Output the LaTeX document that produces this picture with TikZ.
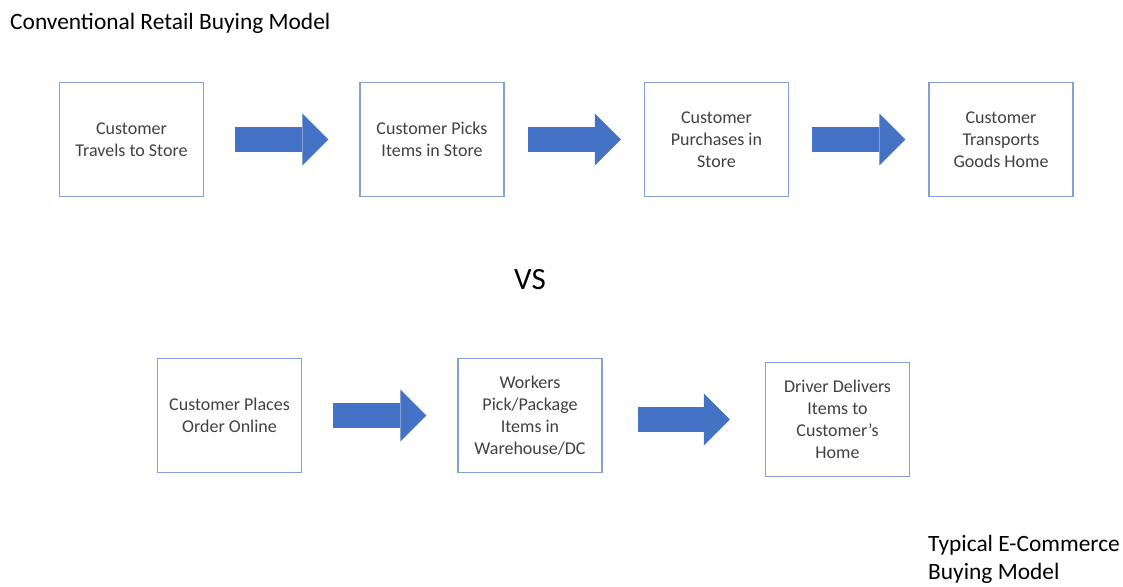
\documentclass[tikz,border=0pt]{standalone}
\usepackage{fontspec}
\setmainfont{Carlito}
\usepackage{xcolor}
\usepackage{tikz}
\usetikzlibrary{arrows.meta, positioning}

\definecolor{boxline}{HTML}{859FD4}
\definecolor{flowblue}{HTML}{4472C4}
\definecolor{boxtext}{HTML}{404040}

\begin{document}
\begin{tikzpicture}[
  x=1pt, y=-1pt,
  box/.style={rectangle, draw=boxline, line width=1.5pt, minimum width=144pt, minimum height=114pt, inner sep=0pt, align=center, text=boxtext, font=\fontsize{18}{22}\selectfont},
  flow/.style={line width=25pt, flowblue, -{Triangle[length=26pt, width=52pt, line width=0pt]}, shorten <=#1, shorten >=#1},
  heading/.style={inner sep=0pt, font=\fontsize{23.4}{28}\selectfont}
]
\useasboundingbox (0,0) rectangle (1123,586);

\node (title) [heading, anchor=base west] at (10,30) {Conventional Retail Buying Model};

% top row
\node (travel) [box] at (131.5,139.5) {Customer\\Travels to Store};
\node (pick) [box, right=155pt of travel] {Customer Picks\\Items in Store};
\node (buy) [box, right=139pt of pick] {Customer\\Purchases in\\Store};
\node (carry) [box, right=139pt of buy] {Customer\\Transports\\Goods Home};

\draw [flow=31pt] (travel) -- (pick);
\draw [flow=23pt] (pick) -- (buy);
\draw [flow=23pt] (buy) -- (carry);

\node (vs) [heading, anchor=base, font=\fontsize{31}{37}\selectfont] at (530,289) {VS};

% bottom row
\node (order) [box] at (229.5,415.5) {Customer Places\\Order Online};
\node (pack) [box, right=155pt of order] {Workers\\Pick/Package\\Items in\\Warehouse/DC};
\node (deliver) [box, right=162pt of pack, yshift=-4pt] {Driver Delivers\\Items to\\Customer’s\\Home};

\draw [flow=31pt] (order) -- (pack);
\draw [flow=35pt] (pack.east |- deliver) -- (deliver);

\node (caption) [heading, anchor=north west, align=left] at (928,535) {Typical E-Commerce\\Buying Model};
\end{tikzpicture}
\end{document}
